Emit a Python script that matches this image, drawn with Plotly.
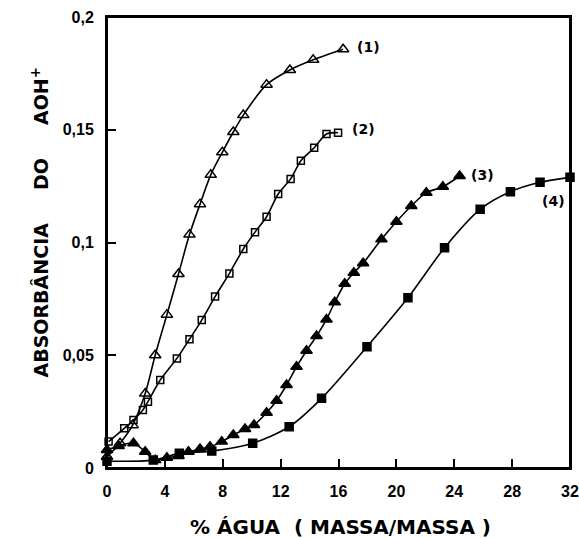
import plotly.graph_objects as go

# Curve (1): open triangles
x1 = [0.0, 0.9, 1.77, 2.64, 3.33, 4.14, 4.94, 5.70, 6.43, 7.17, 7.97, 8.73, 9.42, 11.03, 12.64, 14.25, 16.32]
y1 = [0.005, 0.011, 0.019, 0.033, 0.050, 0.068, 0.086, 0.1035, 0.117, 0.130, 0.140, 0.149, 0.1565, 0.170, 0.1765, 0.181, 0.1857]

# Curve (2): open squares
x2 = [0.11, 1.19, 1.83, 2.48, 2.83, 3.68, 4.83, 5.70, 6.55, 7.47, 8.46, 9.42, 10.23, 11.03, 11.83, 12.69, 13.40, 14.32, 15.17, 15.97]
y2 = [0.0117, 0.0176, 0.0213, 0.0257, 0.0294, 0.039, 0.0486, 0.0571, 0.0656, 0.076, 0.0863, 0.0971, 0.1046, 0.1114, 0.1215, 0.1282, 0.1363, 0.142, 0.1481, 0.1487]

# Curve (3): filled triangles
x3 = [0.0, 0.80, 1.83, 2.64, 3.33, 4.14, 4.94, 5.63, 6.43, 7.12, 7.93, 8.73, 9.54, 10.16, 11.03, 11.72, 12.41, 13.10, 13.79, 14.48, 15.17, 15.74, 16.43, 17.06, 17.70, 18.97, 20.0, 21.03, 22.07, 23.21, 24.37]
y3 = [0.008, 0.0098, 0.011, 0.0072, 0.0035, 0.0046, 0.0053, 0.0072, 0.0084, 0.0094, 0.0117, 0.0146, 0.0173, 0.0191, 0.0245, 0.0298, 0.0368, 0.0449, 0.052, 0.0585, 0.0659, 0.0735, 0.0817, 0.0866, 0.0908, 0.1014, 0.1092, 0.1162, 0.1221, 0.1247, 0.1295]

# Curve (4): filled squares
x4 = [0.0, 3.2, 5.0, 7.24, 10.07, 12.59, 14.83, 17.97, 20.80, 23.33, 25.79, 27.88, 29.93, 32.0]
y4 = [0.003, 0.0035, 0.0065, 0.0075, 0.011, 0.0183, 0.0309, 0.0538, 0.0755, 0.0977, 0.1147, 0.1225, 0.1267, 0.1289]

x_ticks = [0, 4, 8, 12, 16, 20, 24, 28, 32]
y_ticks = [0, 0.05, 0.1, 0.15, 0.2]
y_ticktext = ["0", "0,05", "0,1", "0,15", "0,2"]

FONT = "DejaVu Sans"
TICKFONT = "Liberation Sans"

fig = go.Figure()

def add(x, y, symbol, size):
    fig.add_trace(go.Scatter(
        x=x, y=y, mode="lines+markers",
        line=dict(color="black", width=1.6, shape="spline", smoothing=0.8),
        marker=dict(symbol=symbol, size=size, color="black",
                    line=dict(color="black", width=1.5)),
        cliponaxis=False, showlegend=False, hoverinfo="skip"))

add(x1, y1, "triangle-up-open", 10)
add(x2, y2, "square-open", 7)
add(x3, y3, "triangle-up", 10)
add(x4, y4, "square", 8)

labels = [("(1)", 18.1, 0.1867), ("(2)", 17.74, 0.1503), ("(3)", 25.96, 0.130), ("(4)", 30.85, 0.1184)]
for t, lx, ly in labels:
    fig.add_annotation(x=lx, y=ly, text=t, showarrow=False, xref="x", yref="y",
                       xanchor="center", yanchor="middle",
                       font=dict(family=FONT, size=14, color="black", weight="bold"))

fig.add_annotation(x=-0.144, y=0.545, xref="paper", yref="paper", textangle=-90,
                   xanchor="center", yanchor="middle",
                   text="ABSORBÂNCIA     DO     AOH<sup>+</sup>", showarrow=False,
                   font=dict(family=FONT, size=19, color="black", weight="bold"))
fig.add_annotation(x=0.505, y=-0.131, xref="paper", yref="paper",
                   xanchor="center", yanchor="middle",
                   text="% ÁGUA  ( MASSA/MASSA )", showarrow=False,
                   font=dict(family=FONT, size=20, color="black", weight="bold"))

# frame around the plotting area
fig.add_shape(type="rect", xref="paper", yref="paper", x0=0, x1=1, y0=0, y1=1,
              line=dict(color="black", width=2), layer="above")

axis_common = dict(showgrid=False, zeroline=False, showline=True, linecolor="black",
                   linewidth=2, mirror=True, ticks="inside", tickcolor="black",
                   tickwidth=1.5, ticklen=9, automargin=False, ticklabeloverflow="allow",
                   tickfont=dict(family=TICKFONT, size=16, color="black", weight="bold"))

fig.update_xaxes(range=[0, 32], tickvals=x_ticks, ticktext=[str(v) for v in x_ticks],
                 ticklabelstandoff=8, **axis_common)
fig.update_yaxes(range=[0, 0.2], tickvals=y_ticks, ticktext=y_ticktext,
                 ticklabelstandoff=8, **axis_common)

fig.update_layout(width=579, height=538, margin=dict(l=107, r=9, t=17, b=70),
                  plot_bgcolor="white", paper_bgcolor="white")

# remove the default 8px page margin so the 579x538 figure fills the window exactly
fig.write_html("out.html", config={"displayModeBar": False},
               post_script="document.body.style.margin='0';document.body.style.overflow='hidden';")
